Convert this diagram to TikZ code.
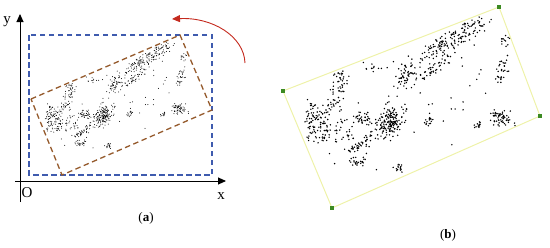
\documentclass[tikz,border=0pt]{standalone}
\usepackage{fontspec}
\setmainfont{Liberation Serif}
\usetikzlibrary{arrows.meta}
\definecolor{boxblue}{HTML}{3F5BAE}
\definecolor{boxbrown}{HTML}{955A2C}
\definecolor{arrred}{HTML}{C42A1E}
\definecolor{mbryel}{HTML}{EEF2A8}
\definecolor{cornergreen}{HTML}{3C8A22}
\tikzset{
  axis/.style={line width=0.9pt,-{Triangle[length=8pt,width=7pt]}},
  bluebox/.style={boxblue,line width=1.3pt,dash pattern=on 5.5pt off 3.5pt},
  brownbox/.style={boxbrown,line width=1.3pt,dash pattern=on 5.5pt off 3.5pt},
  rotarrow/.style={arrred,line width=0.9pt,-{Triangle[length=8pt,width=7pt]}},
  mbr/.style={mbryel,line width=1pt},
  cornersq/.style={fill=cornergreen,draw=none,minimum size=4.5pt,inner sep=0pt},
  axlabel/.style={font=\fontsize{15}{15}\selectfont,inner sep=0pt},
  caplabel/.style={font=\fontsize{13}{13}\selectfont,inner sep=0pt}
}
% clusters given in panel (b) pixel frame: cx/cy/a/b/angle/n
\newcommand\scatterpts[7]{%
  \pgfmathsetseed{4217}%
  \foreach \cx/\cy/\ca/\cb/\ang/\nn in {%
    318/123/24/17/90/110,
    340/83/16/10/80/40,
    363/118/12/8/0/35,
    389/122/22/15/60/140,
    390/122/10/6/60/25,
    362/143/22/6/35/40,
    358/162/6/9/90/25,
    398/168/5/6/90/15,
    405/75/14/10/60/45,
    452/40/50/10/30/150,
    435/68/35/7/35/50,
    502/72/18/8/80/30,
    505/40/10/8/70/12,
    502/118/13/10/0/60,
    478/125/5/4/0/12,
    428/122/6/6/0/15,
    410/108/130/55/21/45,
    340/130/20/15/0/30,
    375/67/14/5/0/12,
    335/105/10/8/0/20}{%
    \pgfmathsetmacro\cosa{cos(\ang)}%
    \pgfmathsetmacro\sina{sin(\ang)}%
    \foreach \k in {1,...,\nn}{%
      \pgfmathsetmacro\tt{\ca*(0.65*rand+0.35*rand)}%
      \pgfmathsetmacro\ss{\cb*(0.65*rand+0.35*rand)}%
      \pgfmathsetmacro\dx{\cx-283+\tt*\cosa+\ss*\sina}%
      \pgfmathsetmacro\dy{\cy-91-\tt*\sina+\ss*\cosa}%
      \pgfmathsetmacro\uu{\dx*0.0039812-\dy*0.0016674}%
      \pgfmathsetmacro\vv{\dx*0.0028583+\dy*0.0073499}%
      \pgfmathsetmacro\px{#1+\uu*#3+\vv*#5}%
      \pgfmathsetmacro\py{#2+\uu*#4+\vv*#6}%
      \fill (\px,\py) circle[radius=#7];
    }%
  }%
}
\begin{document}
\begin{tikzpicture}[x=1pt,y=-1pt]
\useasboundingbox (0,0) rectangle (550,247);
% ---------- panel (a) ----------
\coordinate (yb) at (20,202);
\coordinate (yt) at (20,14);
\coordinate (xl) at (15,181);
\coordinate (xr) at (226,181);
\draw[axis] (yb) -- (yt);
\draw[axis] (xl) -- (xr);
\node[axlabel] (ylab) at (7,22) {y};
\node[axlabel] (olab) at (27,193) {O};
\node[axlabel] (xlab) at (221,196) {x};
\coordinate (ab1) at (29,35);
\coordinate (ab2) at (212,175);
\draw[bluebox] (ab1) rectangle (ab2);
\coordinate (aL) at (31,99);
\coordinate (aT) at (180,35);
\coordinate (aR) at (212,110);
\coordinate (aB) at (62,175);
\begin{scope}
  \clip (aL) -- (aT) -- (aR) -- (aB) -- cycle;
  \scatterpts{31}{99}{149}{-64}{31}{76}{0.5pt}
\end{scope}
\draw[brownbox] (aL) -- (aT) -- (aR) -- (aB) -- cycle;
\coordinate (rs) at (245,63);
\coordinate (re) at (172,19);
\draw[rotarrow] (rs) .. controls (244,36) and (212,17) .. (re);
\node[caplabel] (capa) at (146,218) {(\textbf{a})};
% ---------- panel (b) ----------
\coordinate (bL) at (283,91);
\coordinate (bT) at (499,7);
\coordinate (bR) at (540,116);
\coordinate (bB) at (332,208);
\draw[mbr] (bL) -- (bT) -- (bR) -- (bB) -- cycle;
\begin{scope}
  \clip (bL) -- (bT) -- (bR) -- (bB) -- cycle;
  \scatterpts{283}{91}{216}{-84}{49}{117}{0.8pt}
\end{scope}
\node[cornersq] (sqL) at (bL) {};
\node[cornersq] (sqT) at (bT) {};
\node[cornersq] (sqR) at (bR) {};
\node[cornersq] (sqB) at (bB) {};
\node[caplabel] (capb) at (448,235) {(\textbf{b})};
\end{tikzpicture}
\end{document}
